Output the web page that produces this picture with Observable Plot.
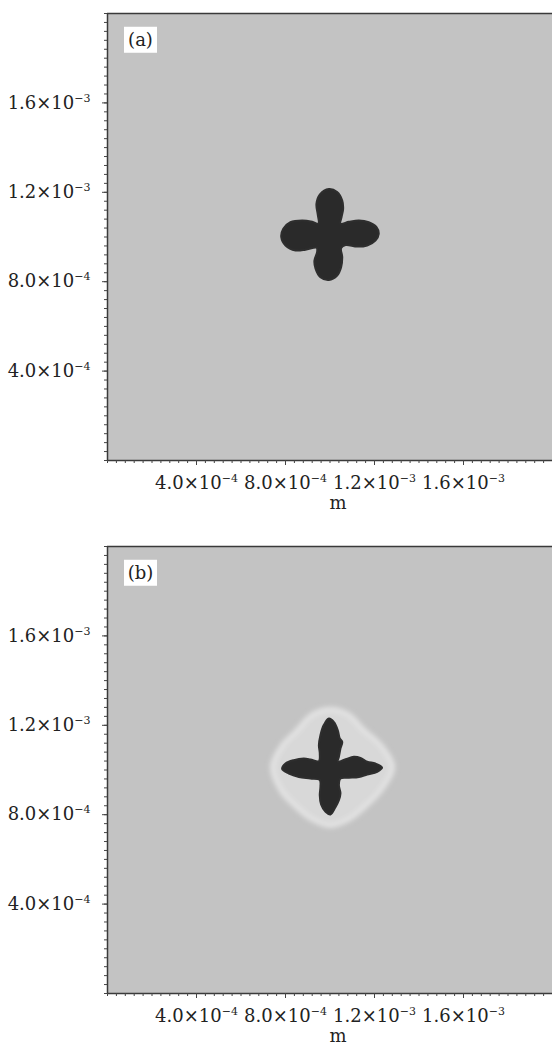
<!DOCTYPE html>
<html>
<head>
<meta charset="utf-8">
<script src="https://cdn.jsdelivr.net/npm/d3@7"></script>
<script src="https://cdn.jsdelivr.net/npm/@observablehq/plot@0.6"></script>
<style>
  body { margin: 0; background: #ffffff; }
  #chart svg { display: block; }
</style>
</head>
<body>
<div id="chart"></div>
<script>
// Axis domains (metres) and tick setup
const xDomain = [0, 2.0e-3];
const yDomain = [0, 2.0e-3];
const majorTicks = [4.0e-4, 8.0e-4, 1.2e-3, 1.6e-3];
const tickLabels = ["4.0×10^−4", "8.0×10^−4", "1.2×10^−3", "1.6×10^−3"];
const minorStep = 4.0e-5;
const axisTitle = "m";
const panelNames = ["(a)", "(b)"];

// Crystal outline, panel (a), micrometres
const crystalAX = [995,1032,1055,1059,1052,1047,1085,1130,1174,1209,1219,1204,1167,1122,1070,1050,1055,1050,1032,995,957,935,930,942,940,890,845,800,781,790,822,875,920,948,945,939,954];
const crystalAY = [1215,1201,1163,1126,1089,1060,1068,1074,1066,1044,1014,984,962,957,964,950,910,865,828,808,820,858,895,932,952,943,940,962,999,1037,1066,1074,1068,1060,1100,1148,1190];

// Crystal outline, panel (b), micrometres
const crystalBX = [995,1017,1035,1044,1055,1047,1040,1035,1070,1107,1137,1167,1204,1234,1212,1167,1130,1085,1047,1040,1047,1040,1025,1002,980,960,954,957,954,912,860,815,785,800,837,882,912,950,954,950,957,972];
const crystalBY = [1230,1215,1178,1141,1126,1096,1059,1037,1048,1059,1054,1037,1029,1011,992,980,969,965,962,932,895,865,835,801,813,846,887,925,955,962,969,984,1004,1029,1044,1051,1047,1039,1074,1111,1156,1201];

// Boundary of the lighter diffusion layer around crystal (b), micrometres
const haloBX = [1002,1084,1147,1226,1281,1228,1158,1084,1002,920,842,780,742,788,848,920];
const haloBY = [1271,1247,1182,1112,1011,910,838,780,752,780,842,910,1016,1112,1172,1247];

const UM = 1e-6;
const toPoints = (xs, ys) => xs.map((x, i) => ({x: x * UM, y: ys[i] * UM}));
const minorTicks = d3.range(xDomain[0], xDomain[1] + minorStep / 2, minorStep);
const fmt = d => tickLabels[majorTicks.indexOf(d)] ?? "";
const NS = "http://www.w3.org/2000/svg";

function panel(name, crystal, halo) {
  const id = "soft-" + name.replace(/\W/g, "");
  const svg = Plot.plot({
    width: 552,
    height: 533,
    marginLeft: 107,
    marginRight: 0,
    marginTop: 13,
    marginBottom: 73,
    x: {domain: xDomain},
    y: {domain: yDomain},
    style: {fontFamily: "'DejaVu Serif', serif", fontSize: "18px", color: "#222", background: "transparent"},
    marks: [
      Plot.frame({fill: "#c3c3c3", stroke: "none"}),
      halo ? Plot.line(halo, {x: "x", y: "y", curve: "catmull-rom-closed", fill: "#d8d8d8", stroke: "#e4e4e4", strokeWidth: 5, ariaDescription: "halo"}) : null,
      Plot.line(crystal, {x: "x", y: "y", curve: "catmull-rom-closed", fill: "#2a2a2a", stroke: "#2e2e2e", strokeWidth: 2}),
      Plot.ruleX([xDomain[0]], {stroke: "#3a3a3a", strokeWidth: 1.5}),
      Plot.ruleY(yDomain, {stroke: "#3a3a3a", strokeWidth: 1.5}),
      Plot.axisX({ticks: minorTicks, tickSize: 3, tickFormat: () => "", stroke: "#444", label: null}),
      Plot.axisY({ticks: minorTicks, tickSize: 3, tickFormat: () => "", stroke: "#444", label: null}),
      Plot.axisX({ticks: majorTicks, tickSize: 5, tickPadding: 11, tickFormat: fmt, stroke: "#444", label: null}),
      Plot.axisY({ticks: majorTicks, tickSize: 5, tickPadding: 12, tickFormat: fmt, stroke: "#444", label: null}),
      Plot.text([axisTitle], {frameAnchor: "bottom", dx: 8, dy: 43, lineAnchor: "middle", fill: "#222"}),
      Plot.text([name], {frameAnchor: "top-left", dx: 33, dy: 27, lineAnchor: "middle", textAnchor: "middle", fill: "#222", ariaDescription: "panel-name"})
    ]
  });

  // raise the exponent part of tick labels
  svg.querySelectorAll("text").forEach(t => {
    const s = t.textContent;
    if (!s.includes("^")) return;
    const [base, exp] = s.split("^");
    t.textContent = "";
    const a = document.createElementNS(NS, "tspan");
    a.textContent = base;
    const b = document.createElementNS(NS, "tspan");
    b.textContent = exp;
    b.setAttribute("dy", "-7");
    b.setAttribute("font-size", "11");
    t.append(a, b);
  });

  // soft edge for the diffusion layer
  const defs = document.createElementNS(NS, "defs");
  defs.innerHTML = '<filter id="' + id + '" x="-20%" y="-20%" width="140%" height="140%"><feGaussianBlur stdDeviation="2.5"/></filter>';
  svg.insertBefore(defs, svg.firstChild);
  const h = svg.querySelector('[aria-description="halo"]');
  if (h) h.setAttribute("filter", "url(#" + id + ")");
  return svg;
}

const root = document.getElementById("chart");
const panels = [
  panel(panelNames[0], toPoints(crystalAX, crystalAY), null),
  panel(panelNames[1], toPoints(crystalBX, crystalBY), toPoints(haloBX, haloBY))
];
panels.forEach(svg => {
  root.append(svg);
  // white box behind the panel name
  const g = svg.querySelector('[aria-description="panel-name"]');
  const t = g && g.querySelector("text");
  if (!t) return;
  const bb = t.getBBox();
  const r = document.createElementNS(NS, "rect");
  const w = 33, hgt = 26;
  r.setAttribute("x", bb.x + bb.width / 2 - w / 2);
  r.setAttribute("y", bb.y + bb.height / 2 - hgt / 2);
  r.setAttribute("width", w);
  r.setAttribute("height", hgt);
  r.setAttribute("fill", "#ffffff");
  if (t.getAttribute("transform")) r.setAttribute("transform", t.getAttribute("transform"));
  g.insertBefore(r, t);
});
</script>
</body>
</html>
